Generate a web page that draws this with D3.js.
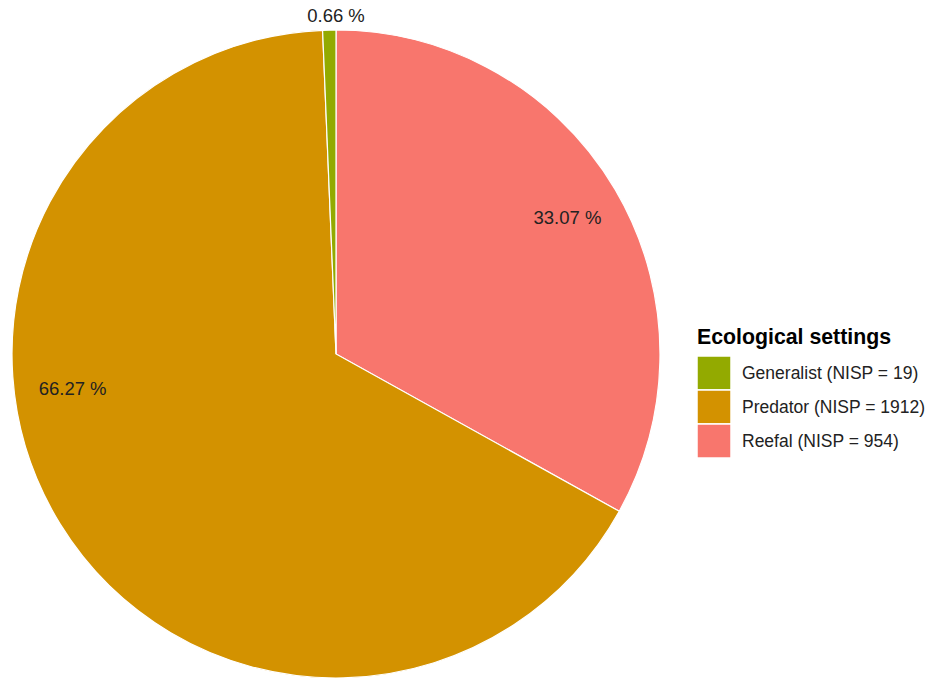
<!DOCTYPE html>
<html><head><meta charset="utf-8">
<script src="https://cdn.jsdelivr.net/npm/d3@7"></script>
<style>body{margin:0;background:#fff;}svg{display:block;font-family:"Liberation Sans",Arial,Helvetica,sans-serif;}</style>
</head><body>
<script>
const categories = ["Generalist", "Predator", "Reefal"];
const nisp = [19, 1912, 954];
const percents = ["0.66 %", "66.27 %", "33.07 %"];
const colors = ["#93AA00", "#D39200", "#F8766D"];
// label placement: angle fraction around pie (from top clockwise) and radius factor
const labelAngleFrac = [0.0, 0.729, 0.165];
const labelRadius = [1.045, 0.82, 0.83];
const pieOrder = ["Reefal", "Predator", "Generalist"];
const legendTitle = "Ecological settings";

const W = 934, H = 681;
const cx = 336, cy = 354, R = 324;
const svg = d3.select("body").append("svg").attr("width", W).attr("height", H);

const data = pieOrder.map(c => { const i = categories.indexOf(c); return {cat: c, value: nisp[i], color: colors[i]}; });
const pie = d3.pie().value(d => d.value).sort(null).startAngle(0).endAngle(2 * Math.PI);
const arc = d3.arc().innerRadius(0).outerRadius(R);
const g = svg.append("g").attr("transform", `translate(${cx},${cy})`);
g.selectAll("path").data(pie(data)).join("path")
  .attr("d", arc).attr("fill", d => d.data.color)
  .attr("stroke", "#fff").attr("stroke-width", 1.2);

const ang = d3.scaleLinear().domain([0, 1]).range([0, 2 * Math.PI]);
categories.forEach((c, i) => {
  const a = ang(labelAngleFrac[i]);
  const r = labelRadius[i] * R;
  g.append("text")
    .attr("x", r * Math.sin(a)).attr("y", -r * Math.cos(a))
    .attr("text-anchor", "middle").attr("dominant-baseline", "central")
    .attr("font-size", 18.5).attr("fill", "#222").text(percents[i]);
});

const lg = svg.append("g").attr("transform", "translate(697,0)");
lg.append("text").attr("x", 0).attr("y", 344).attr("font-size", 21.3).attr("font-weight", "bold")
  .attr("fill", "#000").text(legendTitle);
const ly = d3.scaleBand().domain(categories).range([356, 458]).paddingInner(0);
categories.forEach((c, i) => {
  lg.append("rect").attr("x", 0).attr("y", ly(c)).attr("width", 34).attr("height", ly.bandwidth())
    .attr("fill", colors[i]).attr("stroke", "#fff").attr("stroke-width", 1.5);
  lg.append("text").attr("x", 45).attr("y", ly(c) + ly.bandwidth() / 2)
    .attr("dominant-baseline", "central").attr("font-size", 17.5).attr("fill", "#222")
    .text(`${c} (NISP = ${nisp[i]})`);
});
</script>
</body></html>
